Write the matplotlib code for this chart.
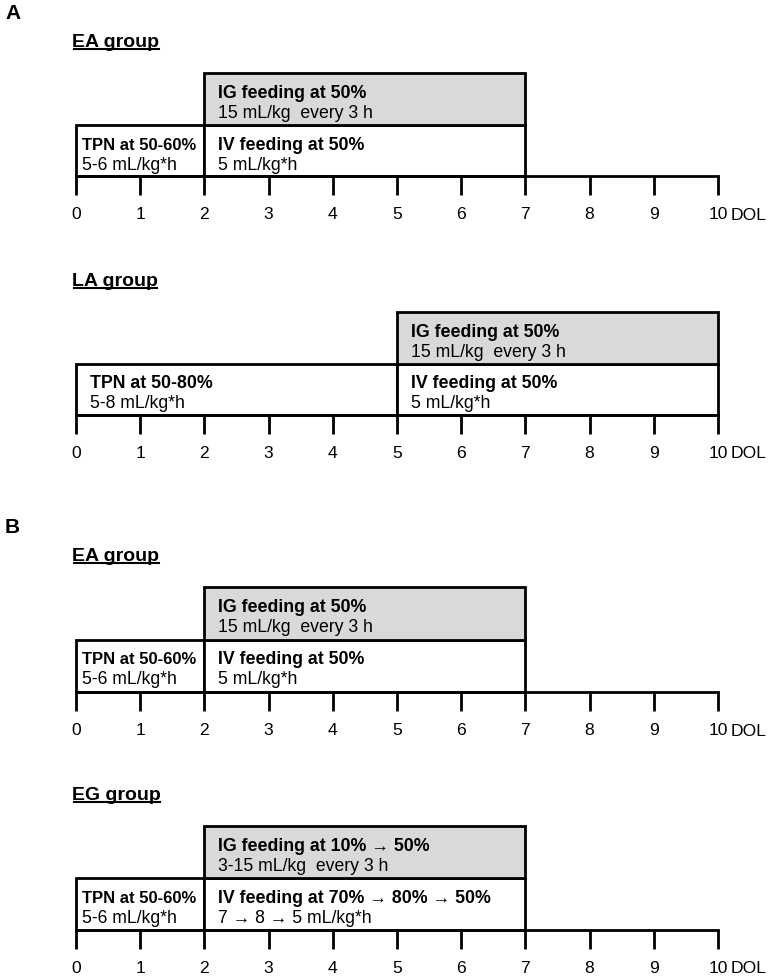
import matplotlib
matplotlib.use("Agg")
import matplotlib.pyplot as plt
from matplotlib.lines import Line2D

plt.rcParams['font.family'] = ['Liberation Sans', 'DejaVu Sans']

# ---------------- data ----------------
panel_letters = ["A", "", "B", ""]
group_names = ["EA group", "LA group", "EA group", "EG group"]
seg_start = [[0, 2, 2], [0, 5, 5], [0, 2, 2], [0, 2, 2]]
seg_end = [[2, 7, 7], [5, 10, 10], [2, 7, 7], [2, 7, 7]]
seg_row = [[0, 0, 1], [0, 0, 1], [0, 0, 1], [0, 0, 1]]
seg_title = [
    ["TPN at 50-60%", "IV feeding at 50%", "IG feeding at 50%"],
    ["TPN at 50-80%", "IV feeding at 50%", "IG feeding at 50%"],
    ["TPN at 50-60%", "IV feeding at 50%", "IG feeding at 50%"],
    ["TPN at 50-60%", "IV feeding at 70% \u2192 80% \u2192 50%", "IG feeding at 10% \u2192 50%"],
]
seg_detail = [
    ["5-6 mL/kg*h", "5 mL/kg*h", "15 mL/kg  every 3 h"],
    ["5-8 mL/kg*h", "5 mL/kg*h", "15 mL/kg  every 3 h"],
    ["5-6 mL/kg*h", "5 mL/kg*h", "15 mL/kg  every 3 h"],
    ["5-6 mL/kg*h", "7 \u2192 8 \u2192 5 mL/kg*h", "3-15 mL/kg  every 3 h"],
]
days = list(range(0, 11))
day_labels = [str(d) for d in days]
axis_unit = "DOL"

# ---------------- layout (pixels) ----------------
W, H, DPI = 773, 978, 100
PT = 72.0 / DPI
box_top_px = [74, 313, 588, 827]
axis_px = [177, 416, 693, 931]
left_px, right_px = 76, 718

fig = plt.figure(figsize=(W / DPI, H / DPI), dpi=DPI)
fig.patch.set_facecolor('white')

axes = []
for i in range(4):
    ax = fig.add_axes([left_px / W, 1 - axis_px[i] / H,
                       (right_px - left_px) / W, (axis_px[i] - box_top_px[i]) / H])
    ax.set_xlim(0, 10)
    ax.set_ylim(0, 2)
    ax.patch.set_alpha(0)
    for s in ['left', 'right', 'top']:
        ax.spines[s].set_visible(False)
    ax.spines['bottom'].set_linewidth(2.0)
    ax.spines['bottom'].set_capstyle('projecting')
    ax.set_yticks([])
    ax.set_xticks(days)
    ax.set_xticklabels(day_labels)
    ax.tick_params(axis='x', direction='out', length=14, width=2.0, pad=7.8,
                   labelsize=12.6, colors='black')

    for st, en, row, ttl, det in zip(seg_start[i], seg_end[i], seg_row[i],
                                     seg_title[i], seg_detail[i]):
        ax.bar(st, 1, width=en - st, bottom=row, align='edge',
               facecolor='#d9d9d9' if row == 1 else 'white',
               edgecolor='black', linewidth=2.0, clip_on=False, zorder=2)
        narrow = (en - st) <= 2
        off = 6 if narrow else 14
        ax.annotate(ttl, xy=(st, row + 1), xytext=(off * PT, -24 * PT),
                    textcoords='offset points',
                    fontsize=12.0 if narrow else 12.8, fontweight='bold',
                    va='baseline', ha='left', zorder=3)
        ax.annotate(det, xy=(st, row + 1), xytext=(off * PT, -44 * PT),
                    textcoords='offset points', fontsize=12.7,
                    va='baseline', ha='left', zorder=3)

    # unit label next to last tick
    ax.annotate(axis_unit, xy=(10, 0), xytext=(13 * PT, -30.5 * PT),
                textcoords='offset points', fontsize=12.6, va='top', ha='left',
                annotation_clip=False)

    # group title
    ax.annotate(group_names[i], xy=(0, 1), xycoords='axes fraction',
                xytext=(-3.5 * PT, 27 * PT), textcoords='offset points',
                fontsize=14, fontweight='bold', va='baseline', ha='left')
    if panel_letters[i]:
        ax.annotate(panel_letters[i], xy=(0, 1), xycoords='axes fraction',
                    xytext=(-71 * PT, 55 * PT), textcoords='offset points',
                    fontsize=15, fontweight='bold', va='baseline', ha='left')
    axes.append(ax)

# underline the group titles
fig.canvas.draw()
renderer = fig.canvas.get_renderer()
for ax in axes:
    for t in ax.texts:
        if t.get_text() in group_names and t.get_fontsize() == 14:
            bb = t.get_window_extent(renderer)
            y = ax.bbox.y1 + 24
            fig.add_artist(Line2D([bb.x0 + 1, bb.x1 - 1], [y, y], transform=None,
                                  color='black', linewidth=1.5))

fig.savefig('out.png', dpi=DPI, facecolor='white')
